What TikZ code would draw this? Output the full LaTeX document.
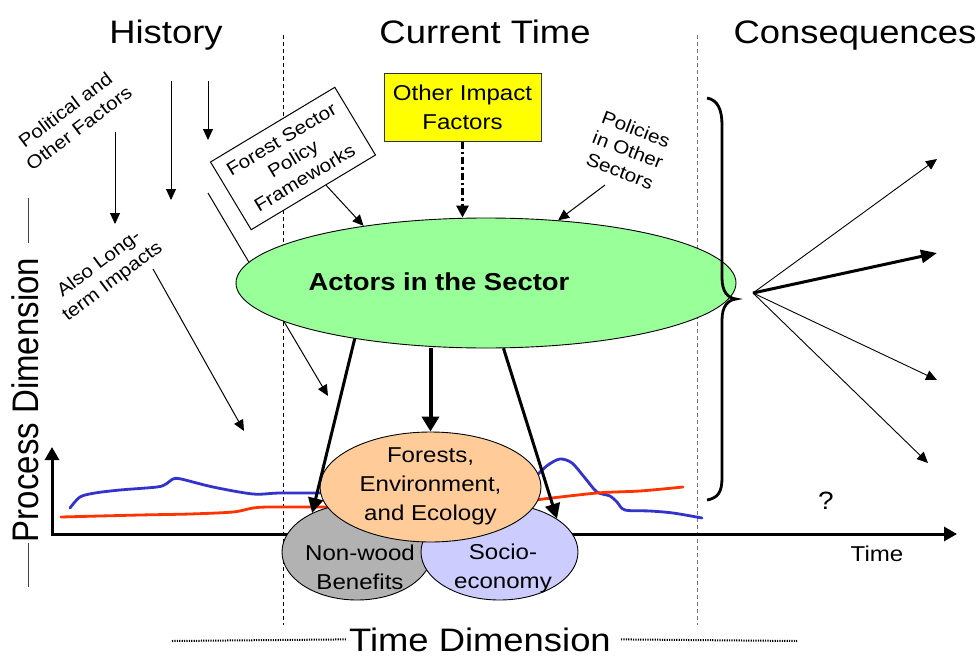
\documentclass[tikz,border=0pt]{standalone}
\usepackage{fontspec}
\setmainfont{Liberation Sans}[FakeStretch=1.12]
\newfontfamily\plainsans{Liberation Sans}
\usepackage{tikz}
\usetikzlibrary{arrows.meta,positioning,shapes.geometric,calc}
\definecolor{actgreen}{HTML}{99FF99}
\definecolor{forestorange}{HTML}{FFCC99}
\definecolor{nonwoodgray}{HTML}{B2B2B2}
\definecolor{sociolilac}{HTML}{CCCCFF}
\definecolor{impactyellow}{HTML}{FFFF00}
\definecolor{trendblue}{HTML}{3333CC}
\definecolor{trendred}{HTML}{FF3300}
\newcommand{\bigfont}{\fontsize{32.5}{36}\selectfont}
\newcommand{\midfont}{\fontsize{21.5}{29}\selectfont}
\newcommand{\smfont}{\fontsize{18.5}{22.5}\selectfont}
\newcommand{\actfont}{\fontsize{24.5}{28}\selectfont\bfseries}
\tikzset{
ttl/.style={font=\bigfont,inner sep=0pt},
midtxt/.style={font=\midfont,align=center,inner sep=0pt},
smtxt/.style={font=\smfont,align=center,inner sep=0pt},
blob/.style={ellipse,draw,line width=0.9pt,inner sep=0pt},
policybox/.style={rectangle,draw,fill=white,line width=1pt,font=\smfont,align=center,inner sep=0pt,minimum width=145pt,minimum height=79pt},
impactbox/.style={rectangle,draw=black!80,fill=impactyellow,line width=1pt,font=\midfont,align=center,inner sep=0pt,minimum width=157pt,minimum height=68pt},
thinarr/.style={-{Triangle[length=11pt,width=10pt]},line width=1pt},
heavyarr/.style={-{Triangle[length=15pt,width=15pt]},line width=3pt},
midarr/.style={-{Triangle[length=15pt,width=17pt]},line width=4pt},
dashdotarr/.style={-{Triangle[length=12pt,width=12pt]},line width=3pt,dash pattern=on 7pt off 3pt on 2.5pt off 3pt},
fanarr/.style={-{Triangle[length=11pt,width=10pt]},line width=0.9pt},
fanmain/.style={-{Triangle[length=16pt,width=13pt]},line width=3pt},
axisarr/.style={{Triangle[length=13pt,width=14pt]}-{Triangle[length=13pt,width=14pt]},line width=3pt},
divider/.style={line width=0.9pt,dash pattern=on 4pt off 3pt},
dotline/.style={line width=2pt,dash pattern=on 1.2pt off 1.2pt},
trendline/.style={line width=2.8pt,line cap=round,line join=round}
}
\begin{document}
\begin{tikzpicture}[
x=1pt,
y=-1pt,
every node/.style={font=\midfont}
]
\useasboundingbox (0,0) rectangle (978,656);
\node[ttl,anchor=base] (hist) at (166,43) {History};
\node[ttl,anchor=base] (curr) at (485,43) {Current Time};
\node[ttl,anchor=base] (cons) at (855,43) {Consequences};
\node[ttl,anchor=base] (timedim) at (480,651) {Time Dimension};
\node[anchor=base,rotate=90,inner sep=0pt] (procdim) at (38,400) {\scalebox{1}[1.12]{\plainsans\fontsize{33}{36}\selectfont Process Dimension}};
\draw[divider] (283,35) -- (283,625);
\draw[divider,black!55] (697,35) -- (697,625);
\draw[dotline] (172,641) -- ([xshift=-3pt]timedim.west);
\draw[dotline] ([xshift=10pt]timedim.east) -- (797,641);
\draw[line width=1pt,black!75] (28,198) -- (28,243);
\draw[line width=1pt,black!75] (28,543) -- (28,587);
\coordinate (yend) at (52,447);
\coordinate (origin) at (52,534);
\coordinate (xend) at (957,534);
\draw[axisarr] (yend) -- (origin) -- (xend);
\node[midtxt,anchor=base] (timelbl) at (877,561) {Time};
\node[midtxt,font=\fontsize{25}{29}\selectfont] (unknown) at (826,501) {?};
\draw[trendline,trendblue] plot[smooth] coordinates {(70,508) (80,497) (95,493) (120,490) (157,487) (166,484) (173,479) (181,479) (213,487) (253,494) (280,493) (330,493)};
\draw[trendline,trendred] plot[smooth] coordinates {(61,517) (140,515) (190,514) (233,512) (253,508) (270,507) (335,507)};
\draw[trendline,trendblue] plot[smooth] coordinates {(537,475) (548,465) (560,459) (572,463) (585,478) (597,492) (610,496) (617,502) (625,510) (650,511) (673,513) (702,518)};
\draw[trendline,trendred] plot[smooth] coordinates {(535,500) (597,493) (640,491) (683,487)};
\node[smtxt,rotate=37] (political) at (72,119) {Political and\\Other Factors};
\node[smtxt,rotate=37] (alsolong) at (106,273) {Also Long-\\term Impacts};
\node[smtxt,rotate=-21] (policies) at (628,150) {Policies\\in Other\\Sectors};
\coordinate (pf0) at (115,132);
\coordinate (pf1) at (115,224);
\coordinate (hs0) at (171,81);
\coordinate (hs1) at (171,200);
\coordinate (ht0) at (208,81);
\coordinate (ht1) at (208,140);
\coordinate (lg0) at (208,193);
\coordinate (lg1) at (328,396);
\coordinate (al0) at (153,269);
\coordinate (al1) at (244,431);
\draw[thinarr] (pf0) -- (pf1);
\draw[thinarr] (hs0) -- (hs1);
\draw[thinarr] (ht0) -- (ht1);
\draw[thinarr] (lg0) -- (lg1);
\draw[thinarr] (al0) -- (al1);
\node[blob,fill=actgreen,minimum width=500pt,minimum height=130pt] (actors) at (486,283) {};
\node[inner sep=0pt,font=\actfont] (actorslbl) at (439,282) {Actors in the Sector};
\node[policybox,rotate=31] (fwbox) at (293,158.5) {Forest Sector\\Policy\\Frameworks};
\node[impactbox] (impact) at (462.5,107) {Other Impact\\Factors};
\coordinate (polstart) at (605,185);
\draw[thinarr] ($(fwbox.south)!0.2!(fwbox.south east)$) -- (actors.155);
\draw[thinarr] (polstart) -- (actors.41);
\draw[dashdotarr] (impact.south) -- (impact.south |- actors.north);
\node[blob,fill=nonwoodgray,minimum width=150pt,minimum height=96pt] (nonwood) at (357,552) {};
\node[blob,fill=sociolilac,minimum width=157pt,minimum height=96pt] (socio) at (499.5,552) {};
\node[blob,fill=forestorange,minimum width=221pt,minimum height=110pt] (forests) at (430.5,487) {};
\node[midtxt] (nonwoodlbl) at (360,567) {Non-wood\\Benefits};
\node[midtxt] (sociolbl) at (503,568) {Socio-\\economy};
\node[midtxt] (forestslbl) at (430.5,486) {Forests,\\Environment,\\and Ecology};
\draw[heavyarr] (actors.203) -- (nonwood.139);
\draw[midarr] (forests.north |- actors.south) -- (forests.north);
\draw[heavyarr] (actors.-75) -- (socio.30);
\draw[line width=2.8pt] (707,98) .. controls (718,100) and (722,110) .. (722,125) -- (722,278) .. controls (722,292) and (728,298) .. (736,299) .. controls (728,300) and (722,306) .. (722,320) -- (722,478) .. controls (722,492) and (718,498) .. (707,500);
\coordinate (fanroot) at (753,293);
\coordinate (fan1) at (937,159);
\coordinate (fan2) at (937,253);
\coordinate (fan3) at (937,380);
\coordinate (fan4) at (928,463);
\draw[fanarr] (fanroot) -- (fan1);
\draw[fanmain] (fanroot) -- (fan2);
\draw[fanarr] (fanroot) -- (fan3);
\draw[fanarr] (fanroot) -- (fan4);
\end{tikzpicture}
\end{document}
